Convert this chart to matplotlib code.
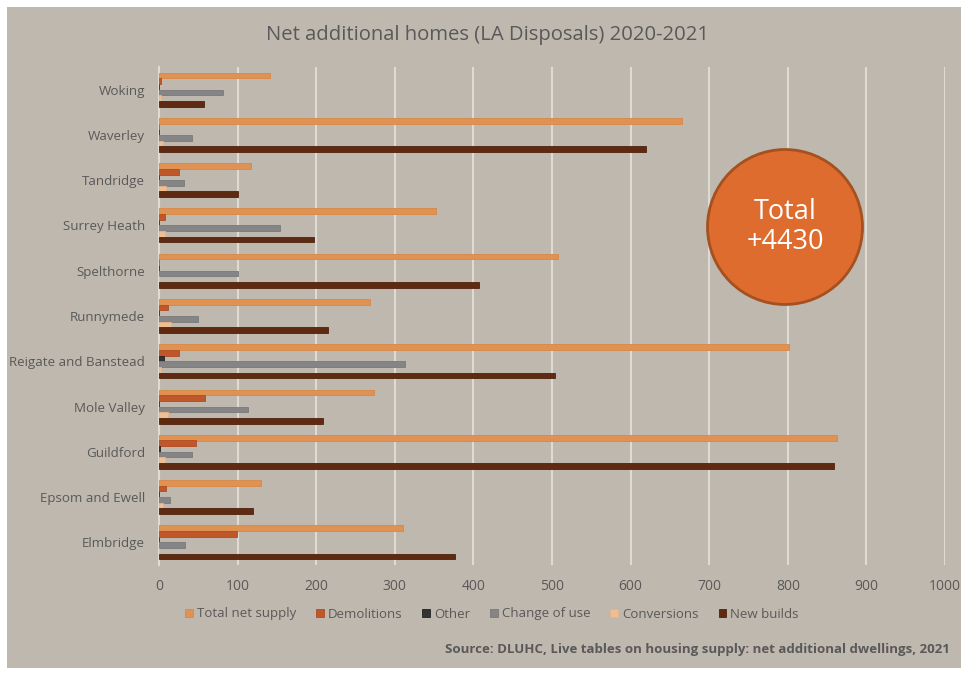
import numpy as np
import matplotlib.pyplot as plt
from matplotlib.patches import Rectangle, Ellipse

plt.rcParams['font.family'] = ['Open Sans', 'DejaVu Sans']

# districts, listed top to bottom as in the chart
districts = ["Woking", "Waverley", "Tandridge", "Surrey Heath", "Spelthorne", "Runnymede",
             "Reigate and Banstead", "Mole Valley", "Guildford", "Epsom and Ewell", "Elmbridge"]

total_net_supply = [141, 666, 117, 352, 508, 269, 801, 274, 863, 130, 310]
demolitions = [3, 0, 26, 7, 0, 11, 26, 59, 47, 9, 99]
other = [0, 0, 0, 0, 0, 0, 6, 0, 1, 0, 0]
change_of_use = [81, 42, 32, 154, 100, 49, 313, 113, 42, 14, 33]
conversions = [3, 5, 9, 7, 0, 15, 3, 11, 8, 5, 0]
new_builds = [57, 619, 100, 197, 407, 215, 504, 209, 859, 120, 376]

series_names = ["Total net supply", "Demolitions", "Other", "Change of use", "Conversions", "New builds"]
series_values = [total_net_supply, demolitions, other, change_of_use, conversions, new_builds]
colors = ["#E09252", "#C0572A", "#333333", "#858585", "#F0BE95", "#5E2B12"]
edges = ["#D88845", "#B04C22", "#222222", "#7A7A7A", "#E8B287", "#4E220E"]

bg = "#BFB8AE"
txt = "#595959"

fig = plt.figure(figsize=(9.67, 6.75), dpi=100)
fig.patch.set_facecolor("white")
fig.add_artist(Rectangle((7 / 967, 7 / 675), 954 / 967, 661 / 675, transform=fig.transFigure,
                         facecolor=bg, edgecolor="none", zorder=0))

ax = fig.add_axes([159 / 967, 1 - 565 / 675, 786 / 967, 498 / 675])
ax.set_facecolor("none")

n = len(districts)
y = np.arange(n)[::-1]  # Woking at the top
h = 0.125
for i, (name, vals) in enumerate(zip(series_names, series_values)):
    offset = (2.5 - i) * h
    ax.barh(y + offset, vals, height=h, color=colors[i], edgecolor=edges[i], linewidth=0.6,
            label=name, zorder=3)

ax.set_xlim(0, 1000)
ax.set_ylim(-0.5, n - 0.5)
ax.set_xticks(np.arange(0, 1001, 100))
ax.set_yticks(y)
ax.set_yticklabels(districts)
ax.tick_params(axis="both", length=0, colors=txt)
ax.tick_params(axis="x", pad=10, labelsize=10)
ax.tick_params(axis="y", pad=10, labelsize=9.6)
ax.grid(axis="x", color="#DEDAD4", linewidth=1.5, zorder=1)
for s in ["top", "right", "bottom"]:
    ax.spines[s].set_visible(False)
ax.spines["left"].set_color("#DEDAD4")
ax.spines["left"].set_linewidth(1.5)

fig.text(488 / 967, 1 - 35 / 675, "Net additional homes (LA Disposals) 2020-2021",
         ha="center", va="center", fontsize=14.6, color=txt)

fig.legend(loc="center", bbox_to_anchor=(492 / 967, 1 - 614 / 675), ncol=6, frameon=False,
           fontsize=9.5, labelcolor=txt, handlelength=0.6, handleheight=0.6,
           handletextpad=0.3, columnspacing=1.5)

fig.text(950 / 967, 1 - 650 / 675,
         "Source: DLUHC, Live tables on housing supply: net additional dwellings, 2021",
         ha="right", va="center", fontsize=9.5, fontweight="bold", color=txt)

# total bubble
cx, cy, d = 785, 227, 155
fig.add_artist(Ellipse((cx / 967, 1 - cy / 675), d / 967, d / 675, transform=fig.transFigure,
                       facecolor="#DD6C2E", edgecolor="#A5501F", linewidth=2, zorder=5))
fig.text(cx / 967, 1 - cy / 675, "Total\n+4430", ha="center", va="center", fontsize=19.5,
         color="white", linespacing=1.05, zorder=6)

fig.savefig("out.png", dpi=100)
